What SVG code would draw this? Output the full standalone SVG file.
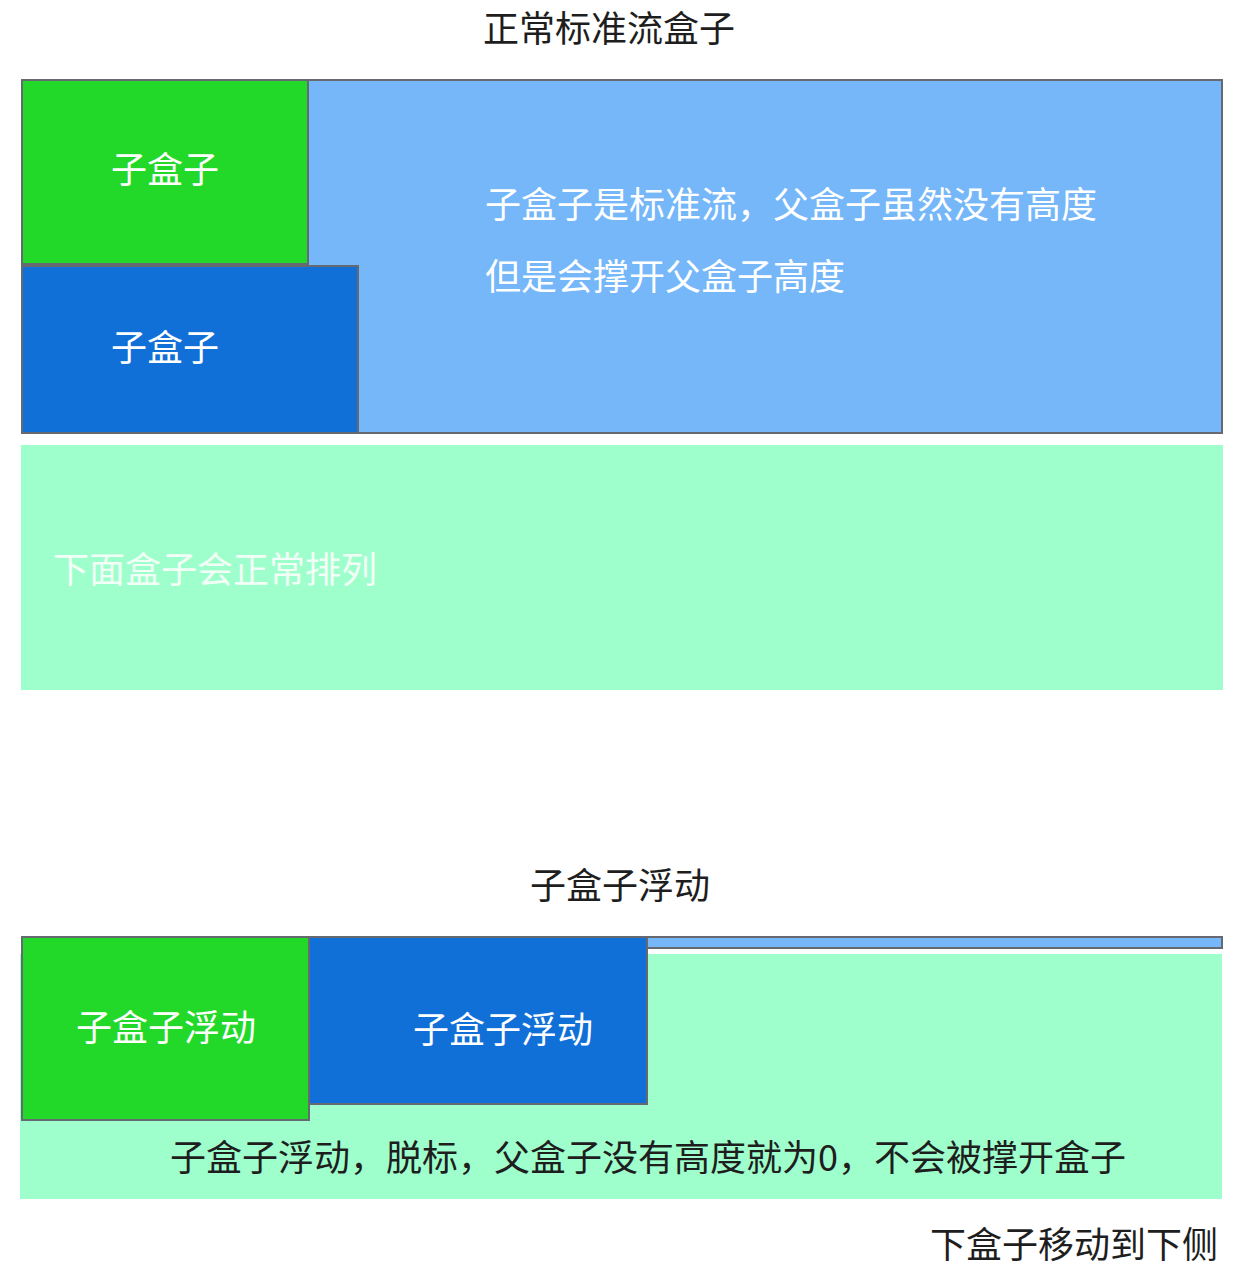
<svg xmlns="http://www.w3.org/2000/svg" width="1242" height="1282" viewBox="0 0 1242 1282">
<style>
text{font-family:"Noto Sans CJK SC","Liberation Sans",sans-serif;font-size:36px}
.dark{fill:#1e1e1e}
.white{fill:#ffffff}
.box{stroke:#666a70;stroke-width:2}
.parent{fill:#75b7f9}
.green{fill:#22d92a}
.blue{fill:#1170d8}
.mint{fill:#9effcc}
</style>
<rect width="1242" height="1282" fill="#ffffff"/>
<g id="title-top"><text class="dark" x="609" y="42" text-anchor="middle">正常标准流盒子</text></g>
<g id="parent-top">
<rect class="box parent" x="22" y="80" width="1200" height="353"/>
<text class="white" x="485" y="218">子盒子是标准流，父盒子虽然没有高度</text>
<text class="white" x="485" y="290">但是会撑开父盒子高度</text>
</g>
<g id="child-green-top">
<rect class="box green" x="22" y="80" width="286" height="184"/>
<text class="white" x="165" y="183" text-anchor="middle">子盒子</text>
</g>
<g id="child-blue-top">
<rect class="box blue" x="22" y="266" width="336" height="167"/>
<text class="white" x="165" y="361" text-anchor="middle">子盒子</text>
</g>
<g id="below-top">
<rect class="mint" x="21" y="445" width="1202" height="245"/>
<text x="53" y="583" fill="#f2fff7">下面盒子会正常排列</text>
</g>
<g id="title-bottom"><text class="dark" x="620" y="899" text-anchor="middle">子盒子浮动</text></g>
<g id="parent-bottom">
<rect class="box parent" x="22" y="937" width="1200" height="11"/>
</g>
<g id="below-bottom">
<rect class="mint" x="20" y="954" width="1202" height="245"/>
<text class="dark" x="648" y="1171" text-anchor="middle">子盒子浮动，脱标，父盒子没有高度就为0，不会被撑开盒子</text>
</g>
<g id="float-green">
<rect class="box green" x="22" y="937" width="287" height="183"/>
<text class="white" x="166" y="1041" text-anchor="middle">子盒子浮动</text>
</g>
<g id="float-blue">
<rect class="box blue" x="309" y="937" width="338" height="167"/>
<text class="white" x="503" y="1043" text-anchor="middle">子盒子浮动</text>
</g>
<g id="note-bottom"><text class="dark" x="1218" y="1258" text-anchor="end">下盒子移动到下侧</text></g>
<g id="connectors"></g>
</svg>
